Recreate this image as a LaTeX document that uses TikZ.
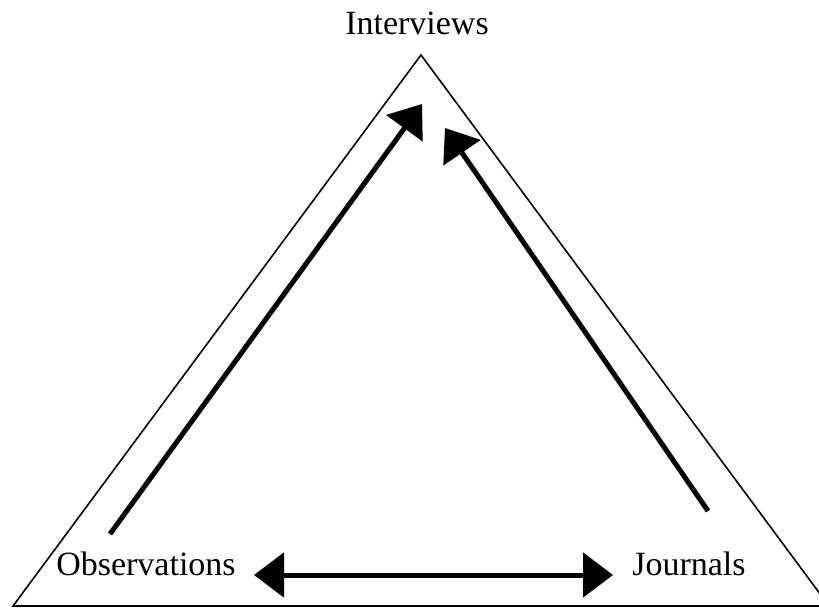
\documentclass[tikz,border=0pt]{standalone}
\usepackage{fontspec}
\setmainfont{Liberation Serif}
\usetikzlibrary{arrows.meta}
\begin{document}
\begin{tikzpicture}[x=1pt,y=-1pt,
  lbl/.style={inner sep=0pt,anchor=base,font=\fontsize{34}{38}\selectfont},
  bigarrow/.style={line width=5pt,-{Triangle[length=30pt,width=44pt]}},
  bigdarrow/.style={line width=5pt,{Triangle[length=30pt,width=44pt]}-{Triangle[length=30pt,width=44pt]}},
  shadow/.style={draw=black!12,shift={(3,4)}}]
\useasboundingbox (0,0) rectangle (819,608);
\clip (0,0) rectangle (819,608);
\fill[white] (0,0) rectangle (819,608);
\coordinate (bl) at (13,606);
\coordinate (top) at (421,55);
\coordinate (br) at (829,606);
\draw[line width=1.6pt,line join=miter] (bl) -- (top) -- (br) -- cycle;
\draw[line width=2.2pt] (bl) -- (br);
\node[lbl] (int) at (417,34) {Interviews};
\node[lbl] (obs) at (146,575) {Observations};
\node[lbl] (jou) at (689,575) {Journals};
\coordinate (a1s) at (110,534);
\coordinate (a1e) at (422,104);
\coordinate (a2s) at (708,511);
\coordinate (a2e) at (445,128);
\coordinate (a3s) at (254,575);
\coordinate (a3e) at (613,575);
\draw[bigarrow,shadow] (a1s) -- (a1e);
\draw[bigarrow,shadow] (a2s) -- (a2e);
\draw[bigdarrow,shadow] (a3s) -- (a3e);
\draw[bigarrow] (a1s) -- (a1e);
\draw[bigarrow] (a2s) -- (a2e);
\draw[bigdarrow] (a3s) -- (a3e);
\end{tikzpicture}
\end{document}
